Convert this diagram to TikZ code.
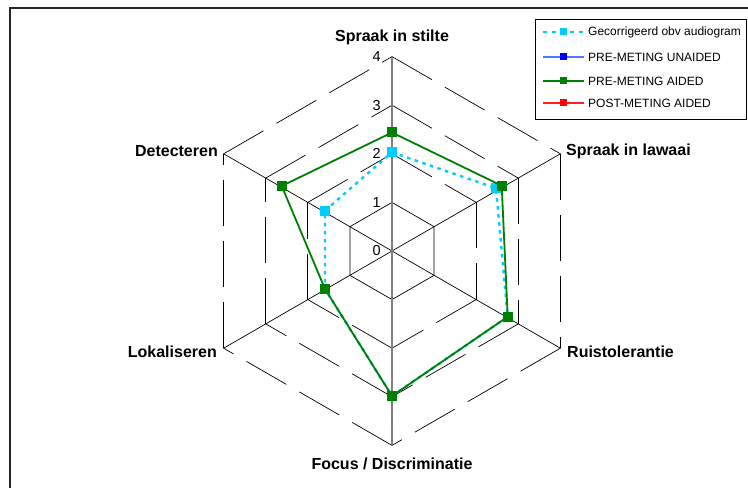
\documentclass[tikz,border=0pt]{standalone}
\usepackage{fontspec}
\setmainfont{Liberation Sans}
\usetikzlibrary{calc}
\definecolor{cyanm}{HTML}{00CCFF}
\definecolor{greenm}{HTML}{008000}
\definecolor{bluel}{HTML}{4D7AFF}
\definecolor{bluem}{HTML}{0000FF}
\definecolor{redl}{HTML}{FF2020}
\definecolor{redm}{HTML}{FF0000}
\begin{document}
\begin{tikzpicture}[x=1pt,y=1pt,
  gridline/.style={black, line width=0.7pt},
  griddash/.style={gridline, dash pattern=on 46pt off 15pt},
  axlabel/.style={font=\fontsize{16}{18}\selectfont\bfseries, inner sep=0pt},
  ticklabel/.style={font=\fontsize{14.5}{16}\selectfont, inner sep=0pt, anchor=east},
  legtext/.style={font=\fontsize{12}{14}\selectfont, inner sep=0pt, anchor=west},
  datamark/.style={rectangle, inner sep=0pt, minimum size=10pt},
  legmark/.style={rectangle, inner sep=0pt, minimum size=7pt},
  greenline/.style={greenm, line width=1.8pt, line join=miter},
  cyanline/.style={cyanm, line width=2.4pt, dash pattern=on 3.5pt off 4.5pt}]
\useasboundingbox (0,0) rectangle (748,488);
\fill[white] (0,0) rectangle (748,488);
% outer frame
\draw[black!85, line width=1.3pt] (10,0) -- (10,480) -- (748,480);
% grid
\coordinate (c) at (392,237);
\foreach \k in {2,3,4} {
  \foreach \a/\b in {90/30,30/-30,-30/-90,-90/-150,-150/150,150/90}
    \draw[griddash] ($(c)+(\a:{48.6*\k})$) -- ($(c)+(\b:{48.6*\k})$);
}
\draw[gridline] ($(c)+(90:48.6)$) -- ($(c)+(30:48.6)$) -- ($(c)+(-30:48.6)$) -- ($(c)+(-90:48.6)$) -- ($(c)+(-150:48.6)$) -- ($(c)+(150:48.6)$) -- cycle;
\foreach \a in {30,-30,-150,150}
  \draw[gridline] (c) -- ($(c)+(\a:194.4)$);
\draw[black!50, line width=1.3pt] ($(c)+(-90:194.4)$) -- ($(c)+(90:194.4)$);
% tick labels
\foreach \k in {0,1,2,3,4}
  \node[ticklabel] (t\k) at (381,{237+48.6*\k}) {\k};
% axis labels
\node[axlabel] (aS) at (392,451) {Spraak in stilte};
\node[axlabel, anchor=west] (aL) at (566,337) {Spraak in lawaai};
\node[axlabel, anchor=west] (aR) at (567,136) {Ruistolerantie};
\node[axlabel] (aF) at (392,24) {Focus / Discriminatie};
\node[axlabel, anchor=east] (aLo) at (217,136) {Lokaliseren};
\node[axlabel, anchor=east] (aD) at (218,337) {Detecteren};
% cyan series
\coordinate (cS) at (392,335.7);
\coordinate (cL) at (496,299.7);
\coordinate (cR) at (507.7,171.3);
\coordinate (cF) at (392,92);
\coordinate (cLo) at (325,199);
\coordinate (cD) at (325,277.3);
\draw[cyanline] (cS) -- (cL) -- (cR) -- (cF) -- (cLo) -- (cD) -- cycle;
\foreach \p in {cS,cL,cR,cF,cLo,cD}
  \node[datamark, fill=cyanm] (m\p) at (\p) {};
% green series
\coordinate (gS) at (392,355.5);
\coordinate (gL) at (501.7,302.3);
\coordinate (gR) at (507.7,171.3);
\coordinate (gF) at (392,92);
\coordinate (gLo) at (325,199);
\coordinate (gD) at (281.7,302);
\draw[greenline] (gS) -- (gL) -- (gR) -- (gF) -- (gLo) -- (gD) -- cycle;
\foreach \p in {gS,gL,gR,gF,gLo,gD}
  \node[datamark, fill=greenm] (m\p) at (\p) {};
% legend
\draw[black, line width=0.8pt] (535,468.5) rectangle (746.5,369);
\coordinate (l1a) at (543,456); \coordinate (l1b) at (584,456);
\coordinate (l2a) at (543,431); \coordinate (l2b) at (584,431);
\coordinate (l3a) at (543,407); \coordinate (l3b) at (584,407);
\coordinate (l4a) at (543,385); \coordinate (l4b) at (584,385);
\draw[cyanm, line width=2pt, dash pattern=on 4pt off 5pt] (l1a) -- (l1b);
\draw[bluel, line width=1.6pt] (l2a) -- (l2b);
\draw[greenm, line width=1.6pt] (l3a) -- (l3b);
\draw[redl, line width=1.6pt] (l4a) -- (l4b);
\node[legmark, fill=cyanm] (lm1) at ($(l1a)!0.5!(l1b)$) {};
\node[legmark, fill=bluem] (lm2) at ($(l2a)!0.5!(l2b)$) {};
\node[legmark, fill=greenm] (lm3) at ($(l3a)!0.5!(l3b)$) {};
\node[legmark, fill=redm] (lm4) at ($(l4a)!0.5!(l4b)$) {};
\node[legtext] (lt1) at (588,456) {Gecorrigeerd obv audiogram};
\node[legtext] (lt2) at (588,431) {PRE-METING UNAIDED};
\node[legtext] (lt3) at (588,407) {PRE-METING AIDED};
\node[legtext] (lt4) at (588,385) {POST-METING AIDED};
\end{tikzpicture}
\end{document}
